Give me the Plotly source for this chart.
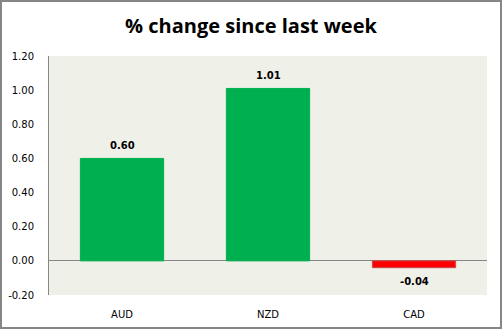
import plotly.graph_objects as go

categories = ["AUD", "NZD", "CAD"]
values = [0.60, 1.01, -0.04]
bar_colors = ["#00B050", "#00B050", "#FF0000"]
label_texts = ["0.60", "1.01", "-0.04"]
tick_vals = [-0.2, 0.0, 0.2, 0.4, 0.6, 0.8, 1.0, 1.2]
tick_text = ["-0.20", "0.00", "0.20", "0.40", "0.60", "0.80", "1.00", "1.20"]

W, H = 502, 329
ml, mr, mt, mb = 49, 15, 56, 34
pw, ph = W - ml - mr, H - mt - mb

fig = go.Figure()
fig.add_trace(go.Bar(
    x=categories, y=values,
    marker=dict(color=bar_colors, line=dict(color=["#00B050", "#00B050", "#C0504D"], width=1)),
    width=0.57,
))

for c, v, t in zip(categories, values, label_texts):
    fig.add_annotation(x=c, y=v, text="<b>" + t + "</b>", showarrow=False,
                       yshift=13 if v >= 0 else -14, yanchor="middle",
                       font=dict(family="DejaVu Sans", size=10, color="#000000"))

fig.update_layout(
    width=W, height=H,
    margin=dict(l=ml, r=mr, t=mt, b=mb, pad=0),
    paper_bgcolor="#FFFFFF",
    plot_bgcolor="#EFF0E8",
    showlegend=False,
    title=dict(text="<b>% change since last week</b>", x=0.5, xanchor="center",
               y=1 - 26 / H, yanchor="middle",
               font=dict(family="Open Sans", size=20, color="#000000")),
    xaxis=dict(showgrid=False, showline=False, zeroline=False, ticks="",
               automargin=False, ticklabelstandoff=12,
               tickfont=dict(family="DejaVu Sans", size=10, color="#000000"),
               range=[-0.5, 2.5]),
    yaxis=dict(range=[-0.2, 1.2], tickvals=tick_vals, ticktext=tick_text,
               automargin=False,
               showgrid=False, zeroline=True, zerolinecolor="#868686", zerolinewidth=1,
               showline=True, linecolor="#868686", linewidth=1, ticks="",
               ticklabelstandoff=12,
               tickfont=dict(family="DejaVu Sans", size=10, color="#000000")),
)
# outer border
fig.add_shape(type="rect", xref="paper", yref="paper",
              x0=(-ml + 1) / pw, x1=(pw + mr - 1) / pw,
              y0=(-mb + 1) / ph, y1=(ph + mt - 1) / ph,
              line=dict(color="#868686", width=2), fillcolor="rgba(0,0,0,0)", layer="above")

fig.write_html("out.html")
